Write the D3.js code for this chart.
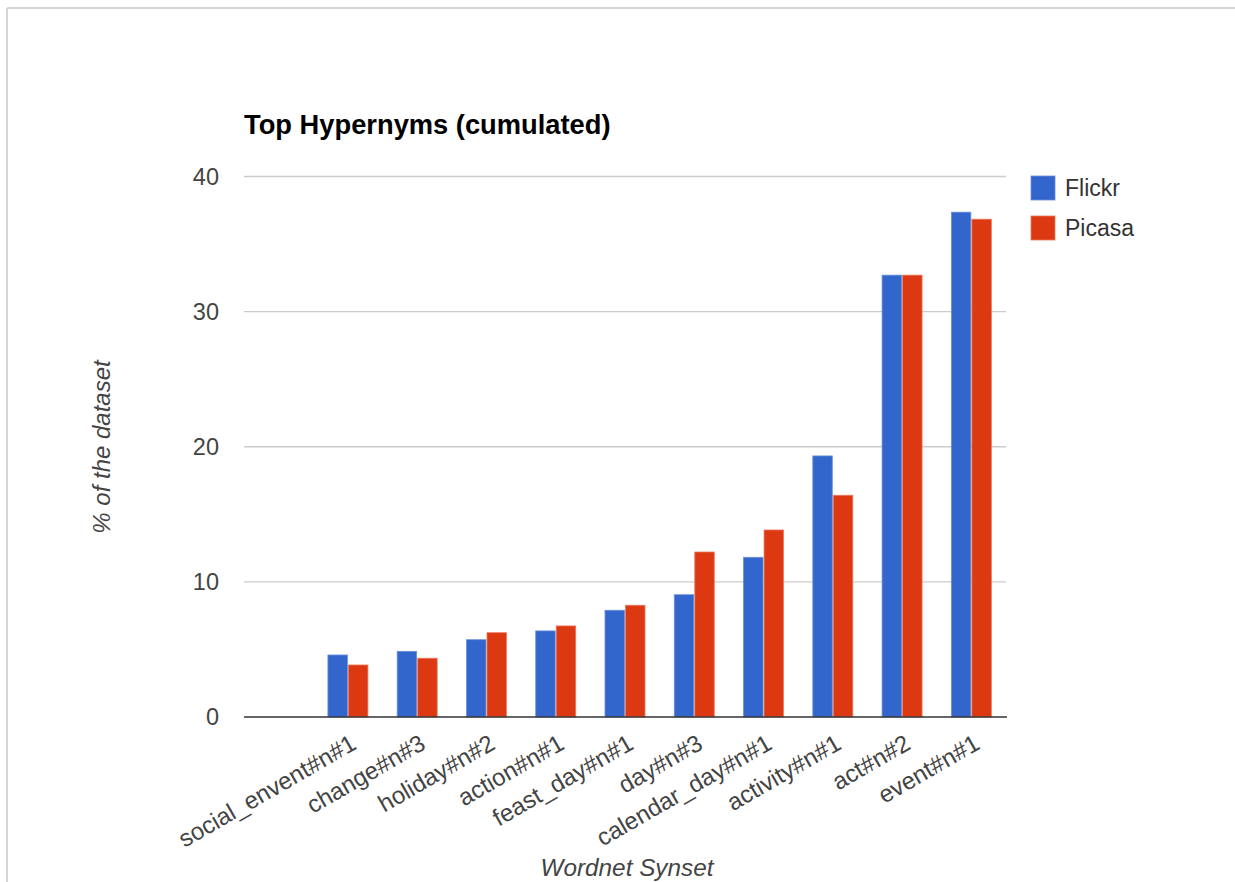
<!DOCTYPE html>
<html>
<head>
<meta charset="utf-8">
<script src="https://cdn.jsdelivr.net/npm/d3@7"></script>
<style>
  html, body { margin: 0; padding: 0; background: #fff; }
  svg { display: block; font-family: Arial, "Liberation Sans", sans-serif; }
</style>
</head>
<body>
<svg id="chart" width="1235" height="882"></svg>
<script>
const categories = ["", "social_envent#n#1", "change#n#3", "holiday#n#2", "action#n#1", "feast_day#n#1", "day#n#3", "calendar_day#n#1", "activity#n#1", "act#n#2", "event#n#1"];
const flickr = [null, 4.59, 4.86, 5.72, 6.37, 7.90, 9.05, 11.82, 19.32, 32.7, 37.36];
const picasa = [null, 3.85, 4.35, 6.24, 6.74, 8.27, 12.21, 13.84, 16.41, 32.7, 36.84];
const seriesNames = ["Flickr", "Picasa"];
const seriesColors = ["#3366cc", "#dc3912"];
const yTicks = [0, 10, 20, 30, 40];

const svg = d3.select("#chart");

// outer frame
svg.append("line").attr("x1", 7).attr("y1", 8).attr("x2", 1235).attr("y2", 8)
  .attr("stroke", "#c8c8c8").attr("stroke-width", 1.5);
svg.append("line").attr("x1", 7).attr("y1", 8).attr("x2", 7).attr("y2", 882)
  .attr("stroke", "#c8c8c8").attr("stroke-width", 1.5);

const plotLeft = 244, plotRight = 1006, plotTop = 176.5, plotBottom = 717;

const x = d3.scaleBand().domain(categories).range([plotLeft, plotRight]).paddingInner(0).paddingOuter(0);
const y = d3.scaleLinear().domain([0, 40]).range([plotBottom, plotTop]);
const groupW = 40;
const x1 = d3.scaleBand().domain(seriesNames).range([0, groupW]).paddingInner(0.05);

// title
svg.append("text").attr("x", 244).attr("y", 134)
  .attr("font-size", 27.3).attr("font-weight", "bold").attr("fill", "#000")
  .text("Top Hypernyms (cumulated)");

// gridlines
svg.append("g").selectAll("line").data(yTicks.filter(d => d !== 0)).join("line")
  .attr("x1", plotLeft).attr("x2", plotRight)
  .attr("y1", d => y(d)).attr("y2", d => y(d))
  .attr("stroke", "#cccccc").attr("stroke-width", 1.3);

// y tick labels via axis
const yAxis = d3.axisLeft(y).tickValues(yTicks).tickSize(0).tickPadding(0);
const yg = svg.append("g").attr("transform", `translate(${219},0)`).call(yAxis);
yg.select(".domain").remove();
yg.selectAll("text").attr("font-size", 23.5).attr("fill", "#444").attr("font-family", "Arial, 'Liberation Sans', sans-serif");

// bars
const rows = categories.map((c, i) => ({ c, vals: [flickr[i], picasa[i]] }));
const groups = svg.append("g").selectAll("g").data(rows).join("g")
  .attr("transform", d => `translate(${x(d.c) + x.bandwidth() / 2 - groupW / 2},0)`);
groups.selectAll("rect").data(d => d.vals.map((v, j) => ({ v, s: seriesNames[j], j })).filter(e => e.v != null))
  .join("rect")
  .attr("x", e => x1(e.s))
  .attr("width", x1.bandwidth())
  .attr("y", e => y(e.v))
  .attr("height", e => y(0) - y(e.v))
  .attr("fill", e => seriesColors[e.j])
  .attr("stroke", e => e.j === 0 ? "#6b8fdb" : "#ea7a5f")
  .attr("stroke-width", 0.8);

// baseline
svg.append("line").attr("x1", plotLeft).attr("x2", plotRight + 1)
  .attr("y1", y(0)).attr("y2", y(0))
  .attr("stroke", "#333").attr("stroke-width", 1.5);

// x labels
const xAxis = d3.axisBottom(x).tickSize(0).tickPadding(0);
const xg = svg.append("g").attr("transform", `translate(0,${plotBottom})`).call(xAxis);
xg.select(".domain").remove();
xg.selectAll("text")
  .attr("font-size", 24).attr("fill", "#444").attr("font-family", "Arial, 'Liberation Sans', sans-serif")
  .attr("text-anchor", "end")
  .attr("y", 0).attr("dy", 0)
  .attr("transform", "translate(10,31) rotate(-30)");

// axis titles
svg.append("text").attr("transform", "translate(110,447) rotate(-90)")
  .attr("text-anchor", "middle").attr("font-size", 24).attr("font-style", "italic")
  .attr("fill", "#444").text("% of the dataset");
svg.append("text").attr("x", 627).attr("y", 876)
  .attr("text-anchor", "middle").attr("font-size", 24.3).attr("font-style", "italic")
  .attr("fill", "#444").text("Wordnet Synset");

// legend
const lg = svg.append("g").selectAll("g").data(seriesNames).join("g")
  .attr("transform", (d, i) => `translate(1031,${176 + i * 40})`);
lg.append("rect").attr("width", 24).attr("height", 24)
  .attr("fill", (d, i) => seriesColors[i])
  .attr("stroke", (d, i) => i === 0 ? "#6b8fdb" : "#ea7a5f").attr("stroke-width", 0.8);
lg.append("text").attr("x", 34).attr("y", 20).attr("font-size", 23).attr("fill", "#333").text(d => d);
</script>
</body>
</html>
